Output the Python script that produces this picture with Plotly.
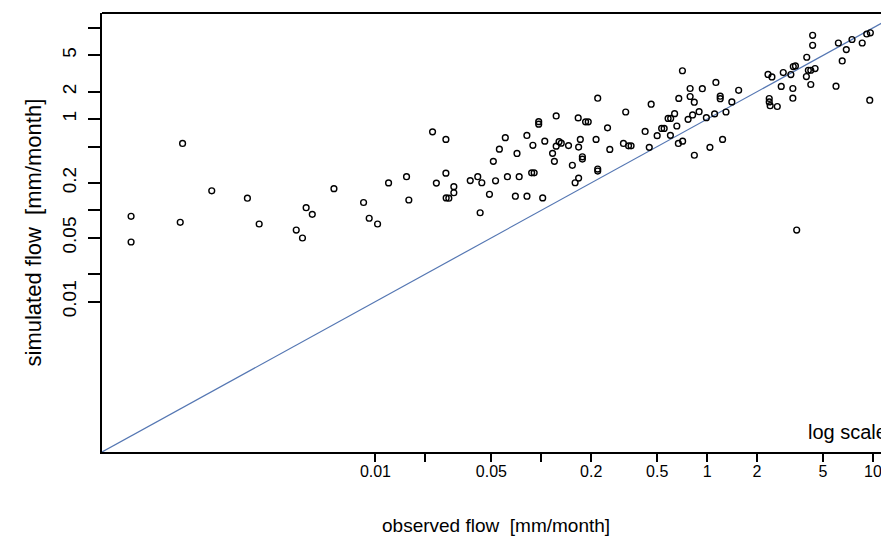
import plotly.graph_objects as go

# observed vs simulated monthly flow [mm/month]
observed = [
    3.36e-4, 3.36e-4, 6.87e-4, 6.65e-4, 1.03e-3, 1.69e-3, 1.99e-3, 3.33e-3, 3.63e-3, 3.82e-3,
    4.16e-3, 5.62e-3, 8.48e-3, 9.17e-3, 0.0103, 0.0120, 0.0154, 0.0159, 0.0221, 0.0266,
    0.0266, 0.0233, 0.0297, 0.0297, 0.0267, 0.0277, 0.0373, 0.0414, 0.0438, 0.0530,
    0.0625, 0.0736, 0.0875, 0.0906, 0.0487, 0.0698, 0.0820, 0.102, 0.0428, 0.0514,
    0.0559, 0.0607, 0.0714, 0.0819, 0.0890, 0.0965, 0.0965, 0.105, 0.117, 0.120,
    0.123, 0.128, 0.132, 0.123, 0.146, 0.168, 0.172, 0.167, 0.185, 0.192,
    0.154, 0.177, 0.177, 0.168, 0.160, 0.214, 0.219, 0.219, 0.219, 0.259,
    0.251, 0.323, 0.313, 0.336, 0.348, 0.460, 0.423, 0.448, 0.500, 0.532,
    0.551, 0.582, 0.603, 0.637, 0.601, 0.657, 0.675, 0.710, 0.790, 0.790,
    0.837, 0.936, 1.13, 1.20, 1.20, 1.55, 1.41, 0.895, 0.818, 0.768,
    0.990, 1.11, 1.30, 0.671, 0.712, 0.838, 1.04, 1.24, 2.33, 2.46,
    2.37, 2.37, 2.40, 2.65, 2.80, 2.88, 3.29, 3.29, 3.20, 3.31,
    3.41, 3.99, 3.97, 4.08, 4.22, 4.48, 4.22, 4.33, 4.33, 5.99,
    6.19, 6.53, 6.91, 7.48, 8.62, 9.18, 9.65, 9.57, 3.47,
]
simulated = [
    0.0861, 0.0450, 0.542, 0.0740, 0.164, 0.136, 0.0709, 0.0609, 0.0498, 0.107,
    0.0905, 0.173, 0.122, 0.082, 0.0709, 0.200, 0.234, 0.130, 0.726, 0.600,
    0.256, 0.199, 0.182, 0.156, 0.137, 0.136, 0.212, 0.234, 0.201, 0.211,
    0.234, 0.234, 0.258, 0.258, 0.150, 0.143, 0.143, 0.137, 0.0942, 0.345,
    0.469, 0.627, 0.421, 0.663, 0.517, 0.939, 0.882, 0.574, 0.422, 0.345,
    1.084, 0.567, 0.546, 0.506, 0.513, 0.494, 0.600, 1.033, 0.934, 0.934,
    0.312, 0.365, 0.387, 0.226, 0.201, 0.600, 1.698, 0.284, 0.270, 0.466,
    0.803, 1.199, 0.542, 0.510, 0.510, 1.459, 0.733, 0.491, 0.660, 0.791,
    0.791, 1.018, 1.018, 1.149, 0.665, 0.842, 1.689, 3.396, 2.168, 1.772,
    1.535, 2.157, 2.528, 1.785, 1.676, 2.072, 1.547, 1.208, 1.112, 0.995,
    1.038, 1.143, 1.199, 0.542, 0.574, 0.402, 0.491, 0.600, 3.093, 2.904,
    1.685, 1.547, 1.405, 1.377, 2.286, 3.245, 2.168, 1.698, 3.086, 3.775,
    3.832, 4.772, 2.934, 3.439, 3.439, 3.589, 2.398, 8.309, 6.458, 2.298,
    6.843, 4.346, 5.794, 7.474, 6.843, 8.586, 8.849, 1.614, 0.0609,
]

one_to_one = [1e-4, 100]

tick_vals = [0.01, 0.02, 0.05, 0.1, 0.2, 0.5, 1, 2, 5, 10]
x_tick_text = ["0.01", "", "0.05", "", "0.2", "0.5", "1", "2", "5", "10"]
y_tick_text = ["0.01", "", "0.05", "", "0.2", "", "1", "2", "5", ""]

FONT = "Liberation Sans, Arial, sans-serif"

fig = go.Figure()
fig.add_trace(go.Scatter(
    x=one_to_one, y=one_to_one, mode="lines",
    line=dict(color="#5577b3", width=1.2), hoverinfo="skip", showlegend=False,
))
fig.add_trace(go.Scatter(
    x=observed, y=simulated, mode="markers",
    marker=dict(symbol="circle-open", size=5.8, color="black", line=dict(width=1.4, color="black")),
    showlegend=False,
))

# the page body has an 8px margin, so the figure is 8px smaller than the window
fig.update_layout(
    width=881, height=540,
    margin=dict(l=94, r=0, t=5, b=96),
    paper_bgcolor="white", plot_bgcolor="white",
    font=dict(family=FONT, color="black"),
    xaxis=dict(
        type="log", range=[-3.649, 1.097],
        tickvals=tick_vals, ticktext=x_tick_text,
        ticks="outside", ticklen=8, tickwidth=1.5, tickcolor="black",
        showline=True, linecolor="black", linewidth=1.8,
        showgrid=False, zeroline=False,
        ticklabelstandoff=-4,
        tickfont=dict(size=16, family=FONT),
    ),
    yaxis=dict(
        type="log", range=[-3.649, 1.164],
        tickvals=tick_vals, ticktext=y_tick_text,
        ticks="outside", ticklen=12, tickwidth=1.5, tickcolor="black",
        showline=True, linecolor="black", linewidth=1.8,
        showgrid=False, zeroline=False, tickangle=-90,
        ticklabelstandoff=5,
        tickfont=dict(size=19, family=FONT),
    ),
    shapes=[dict(type="line", xref="paper", yref="paper", x0=0, x1=1, y0=1, y1=1,
                 line=dict(color="black", width=1.8))],
    annotations=[
        dict(text="observed flow  [mm/month]", xref="paper", yref="paper",
             x=0.5, y=0, yshift=-73, xanchor="center", yanchor="middle",
             showarrow=False, font=dict(size=19, family=FONT)),
        dict(text="simulated flow  [mm/month]", xref="paper", yref="paper",
             x=0, y=0.5, xshift=-69, xanchor="center", yanchor="middle", textangle=-90,
             showarrow=False, font=dict(size=22, family=FONT)),
        dict(text="log scale", xref="paper", yref="paper",
             x=0.8945, y=0.046, xanchor="left", yanchor="middle",
             showarrow=False, font=dict(size=20, family=FONT)),
    ],
)

fig.write_html("out.html")
